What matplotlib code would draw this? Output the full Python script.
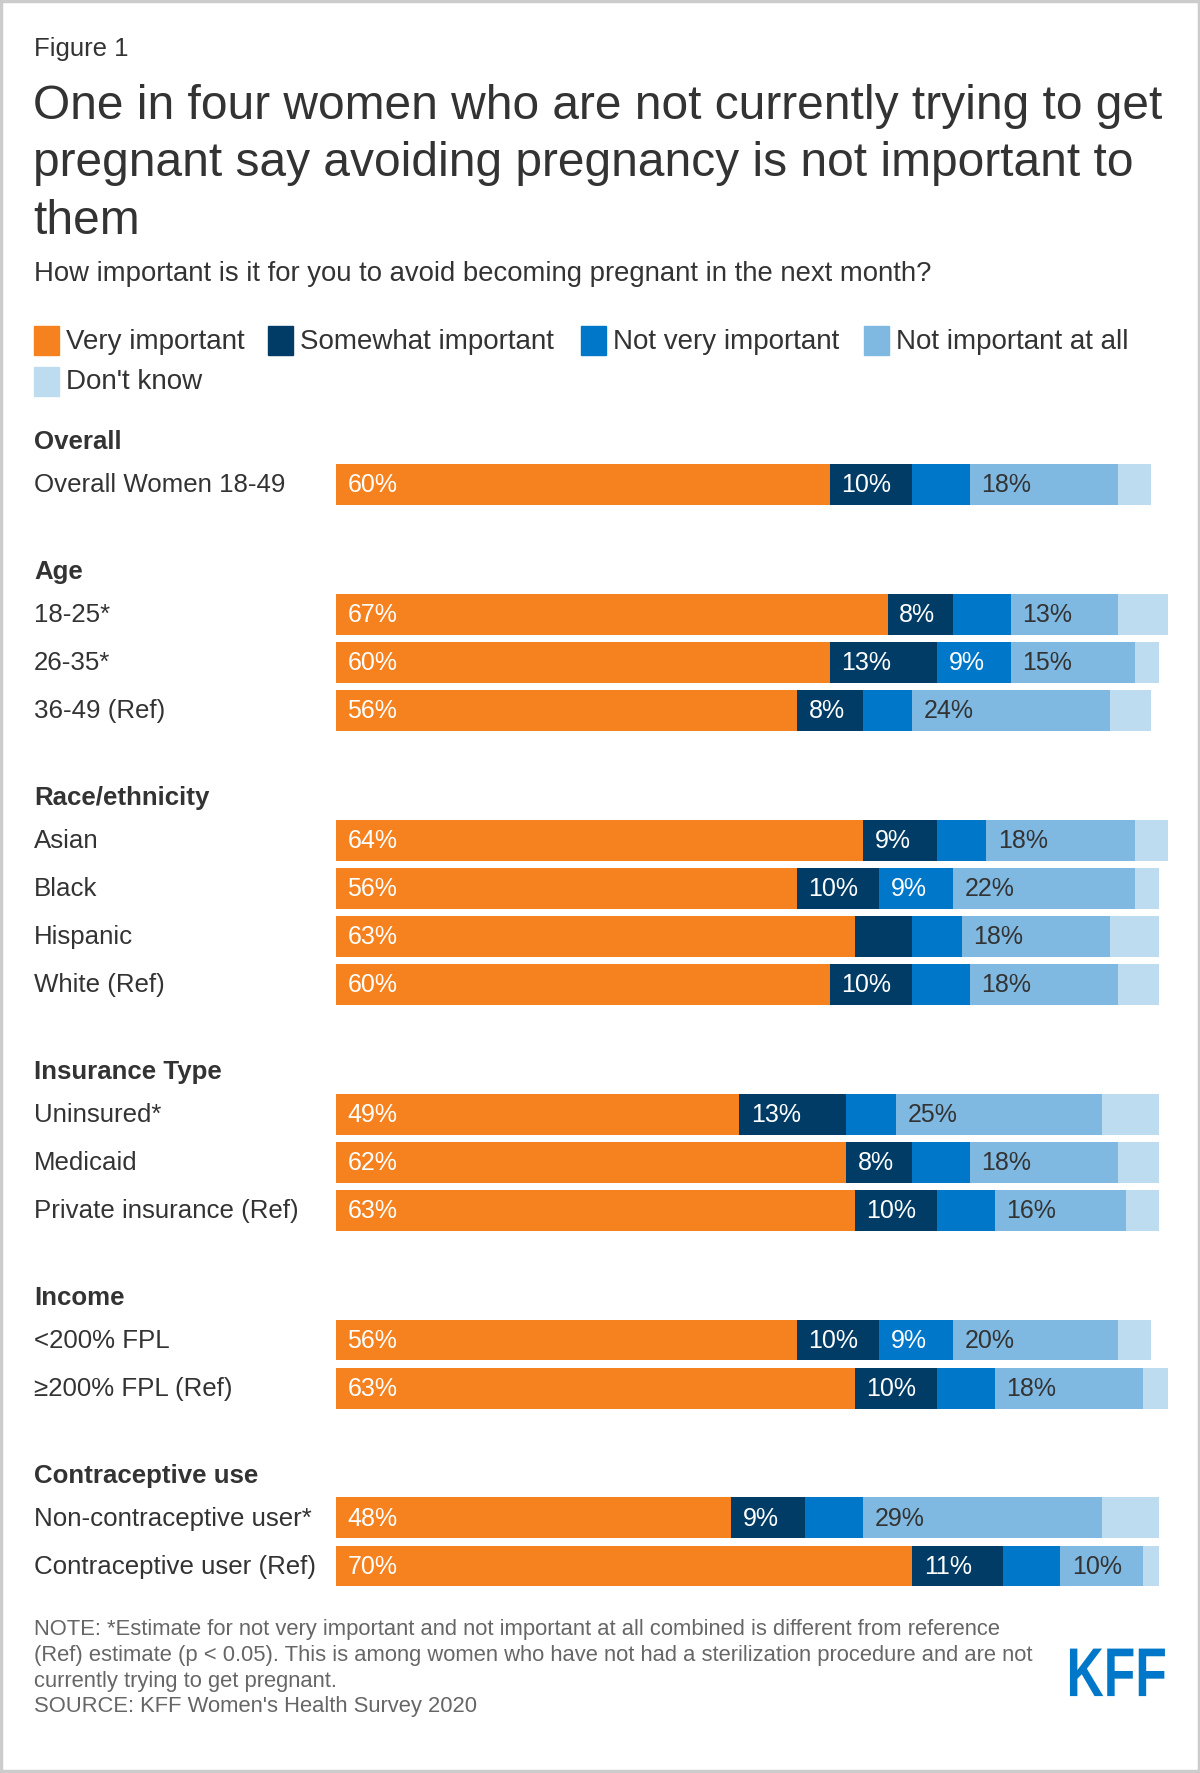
import matplotlib.pyplot as plt
from matplotlib.patches import Rectangle, PathPatch
from matplotlib.textpath import TextPath
from matplotlib.font_manager import FontProperties
import matplotlib.transforms as mtransforms
import numpy as np

plt.rcParams['font.family'] = ['Liberation Sans', 'DejaVu Sans']

# data
series = ["Very important", "Somewhat important", "Not very important",
          "Not important at all", "Don't know"]
colors = ["#F5821F", "#003C66", "#0077C8", "#7FB9E2", "#BDDCF0"]
label_colors = ["white", "white", "white", "#333333", "#333333"]

groups = ["Overall", "Age", "Race/ethnicity", "Insurance Type", "Income",
          "Contraceptive use"]
group_rows = [
    ["Overall Women 18-49"],
    ["18-25*", "26-35*", "36-49 (Ref)"],
    ["Asian", "Black", "Hispanic", "White (Ref)"],
    ["Uninsured*", "Medicaid", "Private insurance (Ref)"],
    ["<200% FPL", "\u2265200% FPL (Ref)"],
    ["Non-contraceptive user*", "Contraceptive user (Ref)"],
]
very = [60, 67, 60, 56, 64, 56, 63, 60, 49, 62, 63, 56, 63, 48, 70]
somewhat = [10, 8, 13, 8, 9, 10, 7, 10, 13, 8, 10, 10, 10, 9, 11]
not_very = [7, 7, 9, 6, 6, 9, 6, 7, 6, 7, 7, 9, 7, 7, 7]
not_at_all = [18, 13, 15, 24, 18, 22, 18, 18, 25, 18, 16, 20, 18, 29, 10]
dont_know = [4, 6, 3, 5, 4, 3, 6, 5, 7, 5, 4, 4, 3, 7, 2]

values = np.array([very, somewhat, not_very, not_at_all, dont_know])

# row positions: one unit per row, wider gap between groups
pos = []
header_pos = []
y = 0.0
for gi, rows in enumerate(group_rows):
    if gi > 0:
        y += 2.7
    header_pos.append(y - 0.9)
    for r in rows:
        pos.append(y)
        y += 1
    y -= 1
pos = np.array(pos)
row_labels = [r for rows in group_rows for r in rows]

W, H = 1061.0, 1568.0
fig = plt.figure(figsize=(12, 17.74), dpi=100)

# frame
fig.patches.append(Rectangle((0.001, 0.001), 0.998, 0.998, transform=fig.transFigure,
                             fill=False, edgecolor="#cccccc", linewidth=2.5))

fig.text(30 / W, 1 - 43 / H, "Figure 1", fontsize=18.5, color="#333333", va="center")
fig.text(29 / W, 1 - 74 / H,
         "One in four women who are not currently trying to get\n"
         "pregnant say avoiding pregnancy is not important to\nthem",
         fontsize=34.5, color="#333333", va="top", linespacing=1.36)
fig.text(30 / W, 1 - 242 / H,
         "How important is it for you to avoid becoming pregnant in the next month?",
         fontsize=19.8, color="#333333", va="center")

# legend
leg_items = [(30, 302), (237, 302), (514, 302), (764, 302), (30, 338)]
for (lx, ly), name, c in zip(leg_items, series, colors):
    fig.patches.append(Rectangle((lx / W, 1 - (ly + 13) / H), 22 / W, 26 / H,
                                 transform=fig.transFigure, color=c))
    fig.text((lx + 28) / W, 1 - ly / H, name, fontsize=20, color="#333333", va="center")

top_y, bot_y = 429, 1385
unit = (bot_y - top_y) / (pos[-1] - pos[0])
ylim_top, ylim_bot = -0.5, pos[-1] + 0.5
ax_top = 1 - (top_y + ylim_top * unit) / H
ax_bot = 1 - (top_y + ylim_bot * unit) / H
ax = fig.add_axes([297 / W, ax_bot, 7.28 * 103 / W, ax_top - ax_bot])
ax.set_xlim(0, 103)
ax.set_ylim(ylim_bot, ylim_top)
ax.axis("off")

left = np.zeros(len(pos))
for i, (name, c, tc) in enumerate(zip(series, colors, label_colors)):
    v = values[i]
    ax.barh(pos, v, left=left, height=0.85, color=c, linewidth=0)
    for yy, l, val in zip(pos, left, v):
        if val >= 8:
            ax.text(l + 1.4, yy, f"{val}%", color=tc, fontsize=18, va="center", ha="left")
    left += v

trans = mtransforms.blended_transform_factory(fig.transFigure, ax.transData)
for yy, lab in zip(pos, row_labels):
    ax.text(30 / W, yy, lab, transform=trans, fontsize=18.6, color="#333333",
            va="center", ha="left", clip_on=False)
for yy, g in zip(header_pos, groups):
    ax.text(30 / W, yy, g, transform=trans, fontsize=18.6, color="#333333",
            fontweight="bold", va="center", ha="left", clip_on=False)

fig.text(30 / W, 1 - 1431 / H,
         "NOTE: *Estimate for not very important and not important at all combined is different from reference\n"
         "(Ref) estimate (p < 0.05). This is among women who have not had a sterilization procedure and are not\n"
         "currently trying to get pregnant.\n"
         "SOURCE: KFF Women's Health Survey 2020",
         fontsize=15.8, color="#666666", va="top", linespacing=1.3)

# KFF logo: bold letters squeezed into a narrow box
tp = TextPath((0, 0), "KFF", size=100, prop=FontProperties(family="Liberation Sans", weight="bold"))
bb = tp.get_extents()
box_w, box_h = 84 * 1200 / W, 42 * 1200 / W
box_x0, box_y0 = 946 * 1200 / W, (H - 1500) * 1200 / W
logo_tr = (mtransforms.Affine2D().translate(-bb.x0, -bb.y0)
           .scale(box_w / bb.width, box_h / bb.height).translate(box_x0, box_y0))
fig.patches.append(PathPatch(logo_tr.transform_path(tp), color="#0077C8", linewidth=0,
                             transform=mtransforms.IdentityTransform()))

fig.savefig("out.png", dpi=100)
